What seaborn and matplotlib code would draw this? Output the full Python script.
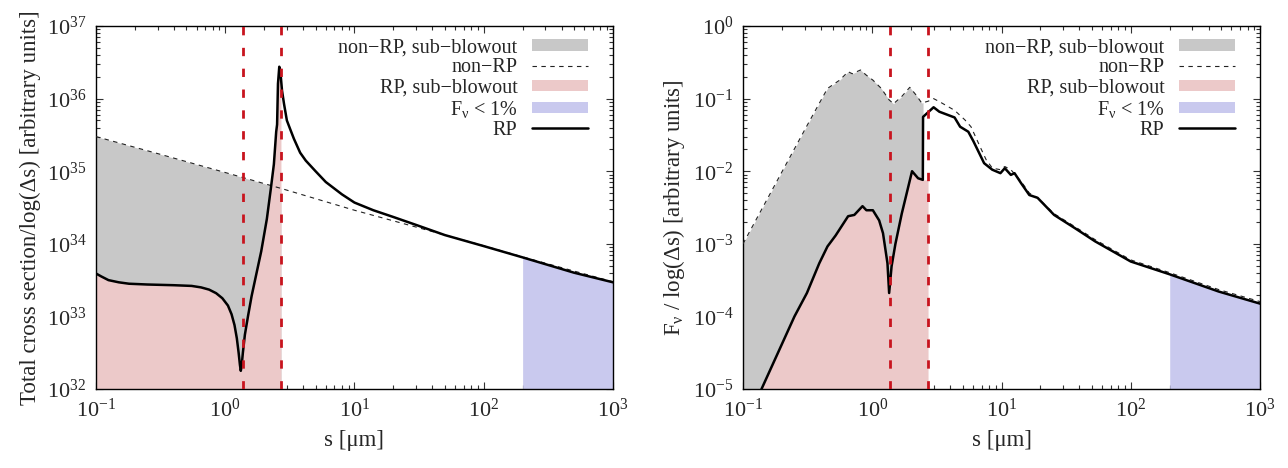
import numpy as np
import matplotlib
matplotlib.use("Agg")
import matplotlib.pyplot as plt
from matplotlib.patches import Patch
from matplotlib.lines import Line2D
from matplotlib.ticker import LogLocator, NullFormatter
import seaborn as sns

# blowout sizes (red dashed lines)
s_dip = 1.38
s_blowout = 2.7
s_faint = 200.0  # above this F_nu < 1%

# left panel: total cross section / log(ds)
s_cs_nonrp = [0.1, 0.3, 1.0, 2.7, 10.0, 30.0, 100.0, 200.0, 1000.0]
cs_nonrp = [3.0e35, 1.75e35, 9.6e34, 5.8e34, 2.9e34, 1.7e34, 9.4e33, 6.6e33, 3.0e33]

s_cs_rp = [0.1, 0.11, 0.125, 0.15, 0.18, 0.25, 0.4, 0.55, 0.65, 0.75, 0.85, 0.95,
           1.05, 1.12, 1.18, 1.23, 1.27, 1.3, 1.32, 1.34, 1.37, 1.42, 1.5, 1.6,
           1.75, 1.9, 2.1, 2.25, 2.38, 2.48, 2.52, 2.56, 2.62, 2.66, 2.7, 2.75,
           2.85, 3.0, 3.2, 3.4, 3.8, 4.2, 5.0, 6.0, 8.0, 10.0, 14.0, 20.0, 30.0,
           50.0, 100.0, 200.0, 500.0, 1000.0]
cs_rp = [3.9e33, 3.55e33, 3.16e33, 2.95e33, 2.82e33, 2.75e33, 2.69e33, 2.63e33,
         2.51e33, 2.34e33, 2.09e33, 1.78e33, 1.41e33, 1.07e33, 7.6e32, 5.0e32,
         3.16e32, 2.14e32, 1.78e32, 2.09e32, 3.16e32, 5.6e32, 1.0e33, 1.9e33,
         4.0e33, 7.9e33, 2.2e34, 5.6e34, 1.25e35, 3.5e35, 4.4e35, 1.6e36, 2.75e36,
         2.5e36, 1.9e36, 1.3e36, 8.5e35, 5.0e35, 3.7e35, 2.8e35, 1.8e35, 1.4e35,
         1.0e35, 7.1e34, 4.8e34, 3.7e34, 2.9e34, 2.34e34, 1.82e34, 1.32e34, 9.3e33,
         6.5e33, 4.0e33, 2.95e33]

# right panel: F_nu / log(ds)
s_f_nonrp = [0.1, 0.2, 0.316, 0.45, 0.56, 0.65, 0.70, 0.81, 0.90, 1.01, 1.17, 1.35,
             1.46, 1.69, 1.95, 2.2, 2.41, 2.47, 2.7, 2.98, 3.3, 4.33, 5.2, 5.8, 6.8,
             7.6, 8.5, 9.8, 10.6, 11.8, 14.2, 16.4, 19.0, 25.5, 36.8, 53.0, 100.0,
             200.0, 479.0, 1000.0]
f_nonrp = [1.0e-3, 9.8e-3, 4.4e-2, 1.38e-1, 1.8e-1, 2.35e-1, 2.2e-1, 2.48e-1, 2.1e-1,
           1.8e-1, 1.39e-1, 9.6e-2, 8.5e-2, 1.07e-1, 1.43e-1, 1.1e-1, 8.7e-2, 8.8e-2,
           9.2e-2, 1.0e-1, 9.1e-2, 6.9e-2, 5.1e-2, 4.1e-2, 2.2e-2, 1.44e-2, 1.1e-2,
           1.05e-2, 1.16e-2, 1.05e-2, 7.2e-3, 5.0e-3, 4.3e-3, 2.6e-3, 1.73e-3,
           1.14e-3, 6.0e-4, 4.0e-4, 2.34e-4, 1.6e-4]

s_f_rp = [0.12, 0.139, 0.187, 0.25, 0.312, 0.389, 0.45, 0.52, 0.65, 0.726, 0.84, 0.90,
          1.01, 1.13, 1.21, 1.31, 1.35, 1.41, 1.51, 1.69, 2.03, 2.26, 2.46, 2.47,
          2.98, 3.3, 4.33, 4.78, 5.53, 6.05, 7.33, 8.47, 9.8, 10.6, 11.8, 12.6, 14.2,
          16.4, 19.0, 25.5, 36.8, 53.0, 100.0, 200.0, 479.0, 1000.0]
f_rp = [4.0e-6, 1.0e-5, 3.2e-5, 1.0e-4, 2.1e-4, 5.4e-4, 9.2e-4, 1.3e-3, 2.4e-3, 2.5e-3,
        3.3e-3, 2.9e-3, 2.9e-3, 2.1e-3, 1.4e-3, 5.4e-4, 2.1e-4, 4.9e-4, 1.0e-3, 2.6e-3,
        1.0e-2, 8.0e-3, 7.6e-3, 5.6e-2, 7.6e-2, 6.6e-2, 5.5e-2, 4.1e-2, 3.5e-2, 2.6e-2,
        1.29e-2, 1.05e-2, 9.4e-3, 1.1e-2, 8.9e-3, 9.4e-3, 6.8e-3, 4.7e-3, 4.3e-3,
        2.5e-3, 1.65e-3, 1.08e-3, 5.7e-4, 3.8e-4, 2.2e-4, 1.5e-4]

gray = "#c8c8c8"
pink = "#ecc9c9"
blue = "#c9c9ee"
red = "#c8141e"

sns.set_theme(style="ticks")
plt.rcParams["font.family"] = ["Liberation Serif", "DejaVu Serif"]
plt.rcParams["mathtext.fontset"] = "custom"
plt.rcParams["mathtext.rm"] = "Liberation Serif"
plt.rcParams["mathtext.it"] = "Liberation Serif:italic"


def panel(ax, s_non, y_non, s_rp, y_rp, ybot, ytop, ylabel, s_gray_end):
    s_non = np.array(s_non)
    y_non = np.array(y_non)
    s_rp = np.array(s_rp)
    y_rp = np.array(y_rp)

    # sub-blowout fills
    m = s_non <= s_gray_end
    ax.fill_between(s_non[m], ybot, y_non[m], color=gray, lw=0, zorder=1)
    m = s_rp <= s_blowout
    fs, fy = list(s_rp[m]), list(y_rp[m])
    if fs[-1] < s_blowout:
        # RP jumps at blowout; the sub-blowout part stays flat up to the line
        m2 = s_rp < s_gray_end
        fs = list(s_rp[m2]) + [s_blowout]
        fy = list(y_rp[m2]) + [y_rp[m2][-1]]
    ax.fill_between(fs, ybot, fy, color=pink, lw=0, zorder=2)
    m = s_rp >= s_faint
    ax.fill_between(s_rp[m], ybot, y_rp[m], color=blue, lw=0, zorder=2)

    sns.lineplot(x=s_non, y=y_non, ax=ax, color="#222222", lw=0.8,
                 linestyle=(0, (4, 4)), sort=False, estimator=None, zorder=3)
    sns.lineplot(x=s_rp, y=y_rp, ax=ax, color="black", lw=1.8,
                 sort=False, estimator=None, zorder=4)
    for sv in (s_dip, s_blowout):
        ax.axvline(sv, color=red, lw=2, linestyle=(0, (3, 4.5)), zorder=5)

    ax.set_xscale("log")
    ax.set_yscale("log")
    ax.set_xlim(0.1, 1000)
    ax.set_ylim(ybot, ytop)
    ax.xaxis.set_major_locator(LogLocator(base=10, numticks=10))
    ax.xaxis.set_minor_locator(LogLocator(base=10, subs=np.arange(2, 10), numticks=20))
    ax.yaxis.set_major_locator(LogLocator(base=10, numticks=10))
    ax.yaxis.set_minor_locator(LogLocator(base=10, subs=np.arange(2, 10), numticks=20))
    ax.xaxis.set_minor_formatter(NullFormatter())
    ax.yaxis.set_minor_formatter(NullFormatter())
    ax.tick_params(which="both", direction="in", top=True, right=True,
                   labelsize=16, width=0.8, color="#333333")
    ax.tick_params(which="major", length=5, pad=7)
    ax.tick_params(which="minor", length=3)
    for sp in ax.spines.values():
        sp.set_linewidth(1.0)
        sp.set_color("black")
    ax.set_xlabel("s [μm]", fontsize=16.5, labelpad=6)
    ax.set_ylabel(ylabel, fontsize=16.5, labelpad=4)

    handles = [Patch(color=gray, lw=0),
               Line2D([], [], color="#222222", lw=0.8, linestyle=(0, (4, 4))),
               Patch(color=pink, lw=0),
               Patch(color=blue, lw=0),
               Line2D([], [], color="black", lw=1.8)]
    labels = ["non\u2212RP, sub\u2212blowout", "non\u2212RP", "RP, sub\u2212blowout",
              "F$_\\mathregular{\u03bd}$ < 1%", "RP"]
    ax.legend(handles, labels, loc="upper right", frameon=False, markerfirst=False,
              fontsize=14.5, handlelength=2.8, handleheight=0.5, handletextpad=0.7,
              labelspacing=0.06, borderaxespad=0.2, bbox_to_anchor=(0.975, 1.0))


fig = plt.figure(figsize=(12.88, 4.68), dpi=100)
ax1 = fig.add_axes([0.0745, 0.1688, 0.4014, 0.7756])
ax2 = fig.add_axes([0.5769, 0.1688, 0.4014, 0.7756])

panel(ax1, s_cs_nonrp, cs_nonrp, s_cs_rp, cs_rp, 1e32, 1e37,
      "Total cross section/log(\u0394s) [arbitrary units]", s_blowout)
panel(ax2, s_f_nonrp, f_nonrp, s_f_rp, f_rp, 1e-5, 1e0,
      "F$_\\mathregular{\u03bd}$ / log(\u0394s) [arbitrary units]", 2.47)

fig.savefig("out.png", dpi=100)
